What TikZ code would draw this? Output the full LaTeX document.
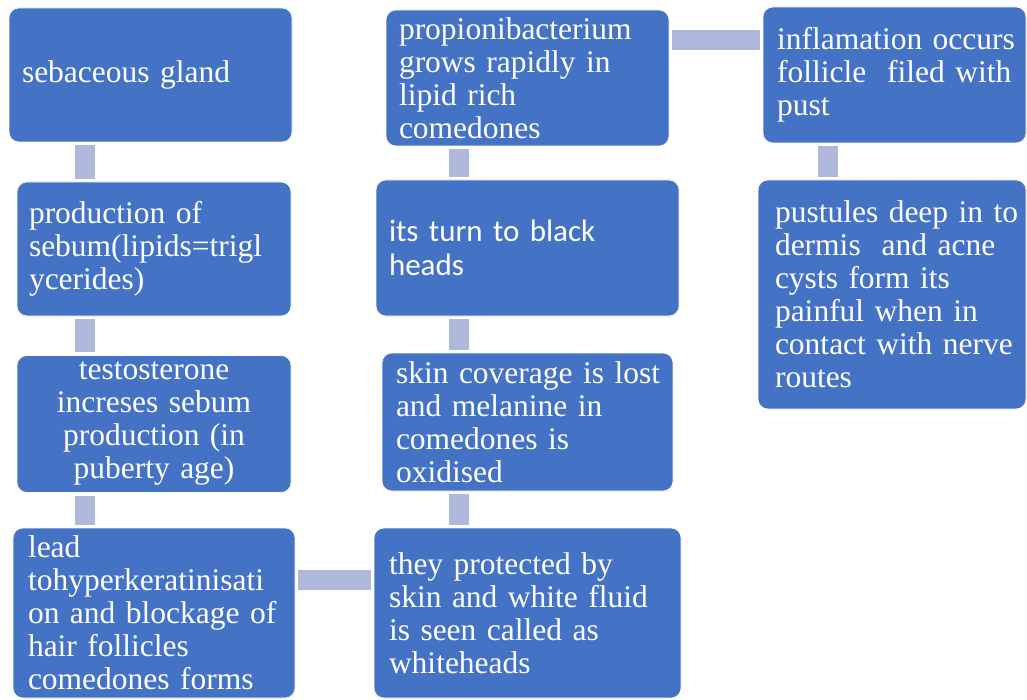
\documentclass[tikz,border=0pt]{standalone}
\usepackage{fontspec}
\setmainfont{Liberation Serif}
\newfontfamily\carlitofont{Carlito}
\definecolor{boxblue}{HTML}{4472C4}
\definecolor{connblue}{RGB}{175,185,219}
\newcommand\oneline[1]{\mbox{#1}}
\begin{document}
\begin{tikzpicture}[x=1pt,y=-1pt,
  box/.style={rectangle, rounded corners=10pt, fill=boxblue, draw=white, line width=0.6pt,
    text=white, inner ysep=0pt, align=left, font=\fontsize{31.5}{33}\selectfont},
  conn/.style={draw=connblue, line width=20pt, shorten <=3pt, shorten >=3pt}]
\useasboundingbox (0,0) rectangle (1027,700);
\fill[white] (0,0) rectangle (1027,700);

% column 1
\node[box, minimum width=283pt, minimum height=134pt, text width=257pt, inner xsep=13pt] (b1) at (150.5,75)
  {\oneline{sebaceous gland}};
\node[box, minimum width=274pt, minimum height=134pt, text width=250pt, inner xsep=12pt] (b2) at (154,249)
  {\oneline{production of}\\\oneline{sebum(lipids=trigl}\\\oneline{ycerides)}};
\node[box, align=center, minimum width=274pt, minimum height=137pt, text width=250pt, inner xsep=12pt] (b3) at (154,424)
  {\oneline{testosterone}\\\oneline{increses\ sebum}\\\oneline{production (in}\\\oneline{puberty age)}};
\node[box, minimum width=282pt, minimum height=170pt, text width=252pt, inner xsep=15pt] (b4) at (154,613)
  {\oneline{lead}\\\oneline{tohyperkeratinisati}\\\oneline{on and blockage of}\\\oneline{hair follicles}\\\oneline{comedones forms}};

% column 2
\node[box, minimum width=283pt, minimum height=136pt, text width=257pt, inner xsep=13pt] (b5) at (527.5,78)
  {\oneline{propionibacterium}\\\oneline{grows rapidly in}\\\oneline{lipid rich}\\\oneline{comedones}};
\node[box, font={\carlitofont\fontsize{31}{34}\selectfont}, minimum width=303pt, minimum height=136pt, text width=277pt, inner xsep=13pt] (b6) at (527.5,248)
  {\oneline{its turn to black}\\\oneline{heads}};
\node[box, minimum width=291pt, minimum height=138pt, text width=263pt, inner xsep=14pt] (b7) at (527.5,422)
  {\oneline{skin coverage is lost}\\\oneline{and melanine in}\\\oneline{comedones is}\\\oneline{oxidised}};
\node[box, minimum width=307pt, minimum height=170pt, text width=277pt, inner xsep=15pt] (b8) at (527.5,613)
  {\oneline{they protected by}\\\oneline{skin and white fluid}\\\oneline{is seen called as}\\\oneline{whiteheads}};

% column 3
\node[box, minimum width=263pt, minimum height=136pt, text width=235pt, inner xsep=14pt] (b9) at (894.5,75)
  {\oneline{inflamation occurs}\\\oneline{follicle\ \ filed with}\\\oneline{pust}};
\node[box, minimum width=268pt, minimum height=229pt, text width=234pt, inner xsep=17pt] (b10) at (892,294.5)
  {\oneline{pustules deep in to}\\\oneline{dermis\ \ and acne}\\\oneline{cysts form its}\\\oneline{painful when in}\\\oneline{contact with nerve}\\\oneline{routes}};

% connectors
\draw[conn] (b1.south -| 84.5,0) -- (b2.north -| 84.5,0);
\draw[conn] (b2.south -| 84.5,0) -- (b3.north -| 84.5,0);
\draw[conn] (b3.south -| 84.5,0) -- (b4.north -| 84.5,0);
\draw[conn] (b4.east |- 0,580) -- (b8.west |- 0,580);
\draw[conn] (b8.north -| 459,0) -- (b7.south -| 459,0);
\draw[conn] (b7.north -| 459,0) -- (b6.south -| 459,0);
\draw[conn] (b6.north -| 459,0) -- (b5.south -| 459,0);
\draw[conn] (b5.east |- 0,40.5) -- (b9.west |- 0,40.5);
\draw[conn] (b9.south -| 828,0) -- (b10.north -| 828,0);
\end{tikzpicture}
\end{document}
